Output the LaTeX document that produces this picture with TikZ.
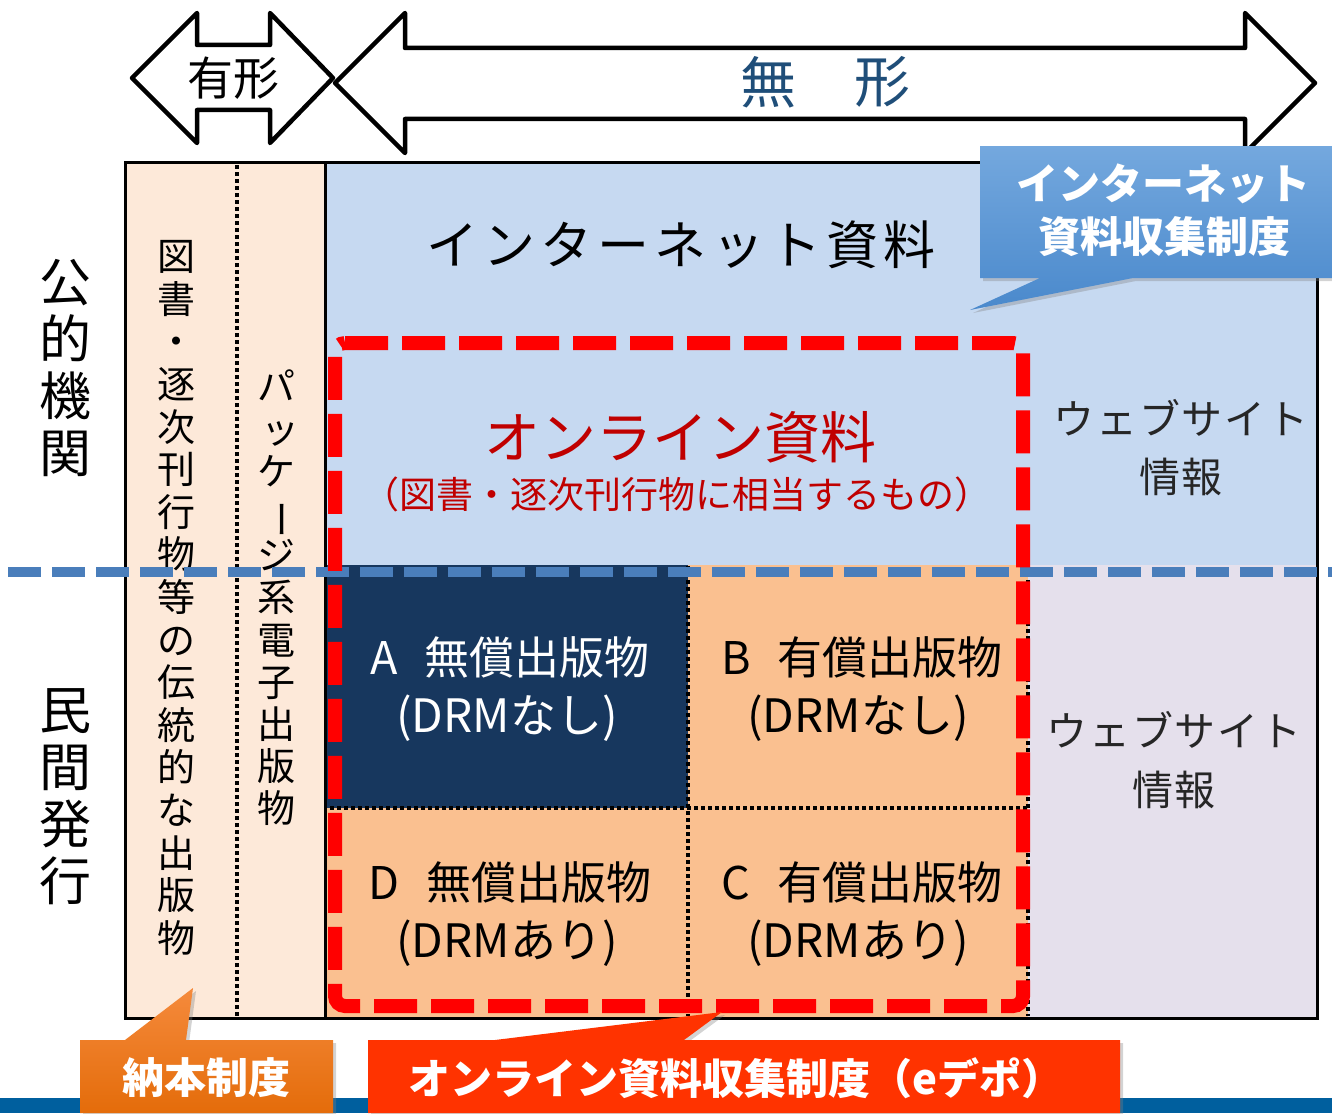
\documentclass[tikz,border=0pt]{standalone}
\usepackage{fontspec}
\usepackage{graphicx}
\usetikzlibrary{shadows}
\newfontfamily\jp{Noto Sans CJK JP}
\newfontfamily\jpwide{Noto Sans CJK JP}[LetterSpace=10]
\newfontfamily\jpmid{Noto Sans CJK JP}[LetterSpace=4]
\newcommand\pxsize[1]{\fontsize{#1pt}{#1pt}\selectfont}
\newcommand\pxsizeb[2]{\fontsize{#1pt}{#2pt}\selectfont}
\newcommand\vbar{\rotatebox[origin=c]{-90}{ー}}
\definecolor{leftfill}{HTML}{FDE9D9}
\definecolor{bluefill}{HTML}{C6D9F1}
\definecolor{lavfill}{HTML}{E5E0EC}
\definecolor{orfill}{HTML}{FAC090}
\definecolor{navy}{HTML}{17375E}
\definecolor{bdash}{HTML}{4A7EBB}
\definecolor{darkred}{HTML}{C00000}
\definecolor{mutb}{HTML}{1F4E79}
\definecolor{bartop}{HTML}{005F9E}
\definecolor{calltop}{HTML}{74A8DE}
\definecolor{callbot}{HTML}{4A89CC}
\definecolor{ortop}{HTML}{F58A3C}
\definecolor{orbot}{HTML}{E46C0A}
\definecolor{redor}{HTML}{FF3300}
\begin{document}
\begin{tikzpicture}[x=1pt,y=-1pt,
  txt/.style={inner sep=0pt, font=\jp},
  frameline/.style={draw=black, line width=3pt},
  dotline/.style={draw=black, line width=3.5pt, dash pattern=on 3.5pt off 3.5pt},
  bigarrow/.style={draw=black, fill=white, line width=4.5pt, line join=round},
  callshadow/.style={drop shadow={opacity=0.35, shadow xshift=3pt, shadow yshift=-3pt}}
]
\useasboundingbox (0,0) rectangle (1332,1113);

% region fills
\fill[leftfill] (125,162) rectangle (325,1018);
\fill[bluefill] (325,162) rectangle (1317,565);
\fill[lavfill] (1028,565) rectangle (1317,1018);
\fill[orfill] (325,565) rectangle (1028,1018);
\fill[navy] (327,565) rectangle (688,808);

% dotted dividers
\draw[dotline] (237,165) -- (237,1016);
\draw[dotline] (688,566) -- (688,1016);
\draw[dotline] (330,808) -- (1028,808);
\draw[dotline] (1028,566) -- (1028,1016);

% frame
\draw[frameline] (125,162) rectangle (1317,1018);
\draw[frameline] (325,162) -- (325,1018);

% left side labels
\node[txt, align=center, font=\jp\pxsizeb{52}{57}] (pub) at (65,368) {公\\的\\機\\関};
\node[txt, align=center, font=\jp\pxsizeb{52}{57}] (priv) at (65,797) {民\\間\\発\\行};

% vertical column texts
\node[txt, align=center, font=\jp\pxsizeb{38}{42.6}] (trad) at (176,598)
  {図\\書\\・\\逐\\次\\刊\\行\\物\\等\\の\\伝\\統\\的\\な\\出\\版\\物};
\node[txt, align=center, font=\jp\pxsizeb{38}{42.2}] (pkg) at (276,598)
  {パ\\\hspace{8pt}ッ\\ケ\\\vbar\\ジ\\系\\電\\子\\出\\版\\物};

% blue dashed separator
\draw[bdash, line width=10pt, dash pattern=on 33pt off 11pt] (8,572) -- (1332,572);

% main texts
\node[txt, font=\jpwide\pxsize{52}] (inet) at (681,245) {インターネット資料};
\node[txt, font=\jp\pxsize{56}, text=darkred] (online) at (680,437) {オンライン資料};
\node[txt, font=\jp\pxsize{37}, text=darkred] (onsub) at (677,494) {（図書・逐次刊行物に相当するもの）};
\node[txt, font=\jpmid\pxsize{41}, text=black!85] (web1) at (1181,418) {ウェブサイト};
\node[txt, font=\jpmid\pxsize{41}, text=black!85] (web2) at (1181,477) {情報};
\node[txt, font=\jpmid\pxsize{41}, text=black!85] (web3) at (1174,730) {ウェブサイト};
\node[txt, font=\jpmid\pxsize{41}, text=black!85] (web4) at (1174,790) {情報};

\node[txt, font=\jp\pxsize{45}, text=white] (a1) at (510,657) {A\hspace{0.6em}無償出版物};
\node[txt, font=\jp\pxsize{46}, text=white] (a2) at (507,718) {(DRMなし)};
\node[txt, font=\jp\pxsize{45}] (b1) at (862,657) {B\hspace{0.6em}有償出版物};
\node[txt, font=\jp\pxsize{46}] (b2) at (858,718) {(DRMなし)};
\node[txt, font=\jp\pxsize{45}] (d1) at (510,882) {D\hspace{0.6em}無償出版物};
\node[txt, font=\jp\pxsize{46}] (d2) at (507,943) {(DRMあり)};
\node[txt, font=\jp\pxsize{45}] (c1) at (862,882) {C\hspace{0.6em}有償出版物};
\node[txt, font=\jp\pxsize{46}] (c2) at (858,943) {(DRMあり)};

% red dashed boundary (online materials)
\draw[red, line width=14pt, rounded corners=10pt, dash pattern=on 43pt off 14pt]
  (335,343) -- (1023,343) -- (1023,1006) -- (335,1006) -- cycle;

% top arrows
\draw[bigarrow] (132,78) -- (197,13) -- (197,45) -- (270,45) -- (270,13) -- (333,78)
  -- (270,143) -- (270,110) -- (197,110) -- (197,143) -- cycle;
\draw[bigarrow] (335,83) -- (405,13) -- (405,48) -- (1245,48) -- (1245,13) -- (1315,83)
  -- (1245,153) -- (1245,119) -- (405,119) -- (405,153) -- cycle;
\node[txt, font=\jp\pxsize{46}] (tang) at (233,78) {有形};
\node[txt, font=\jp\pxsize{56}, text=mutb] (intang1) at (768,82) {無};
\node[txt, font=\jp\pxsize{56}, text=mutb] (intang2) at (882,82) {形};

% bottom bar
\fill[bartop] (0,1098) rectangle (1332,1113);

% callout: internet collection
\path[callshadow, top color=calltop, bottom color=callbot]
  (980,146) -- (1332,146) -- (1332,278) -- (1133,278) -- (970,310) -- (1040,278)
  -- (980,278) -- cycle;
\node[txt, font=\jp\bfseries\pxsize{42}, text=white] (cin1) at (1163,184) {インターネット};
\node[txt, font=\jp\bfseries\pxsize{42}, text=white] (cin2) at (1164,237) {資料収集制度};

% callout: legal deposit
\path[callshadow, top color=ortop, bottom color=orbot]
  (80,1040) -- (125,1040) -- (193,988) -- (186,1040) -- (333,1040) -- (333,1113)
  -- (80,1113) -- cycle;
\node[txt, font=\jp\bfseries\pxsize{42}, text=white] (nohon) at (206,1078) {納本制度};

% callout: online collection (e-depo)
\path[callshadow, fill=redor]
  (368,1040) -- (495,1040) -- (722,1012) -- (684,1040) -- (1120,1040) -- (1120,1113)
  -- (368,1113) -- cycle;
\node[txt, font=\jp\bfseries\pxsize{42}, text=white] (edepo) at (736,1078) {オンライン資料収集制度（eデポ）};

\end{tikzpicture}
\end{document}
